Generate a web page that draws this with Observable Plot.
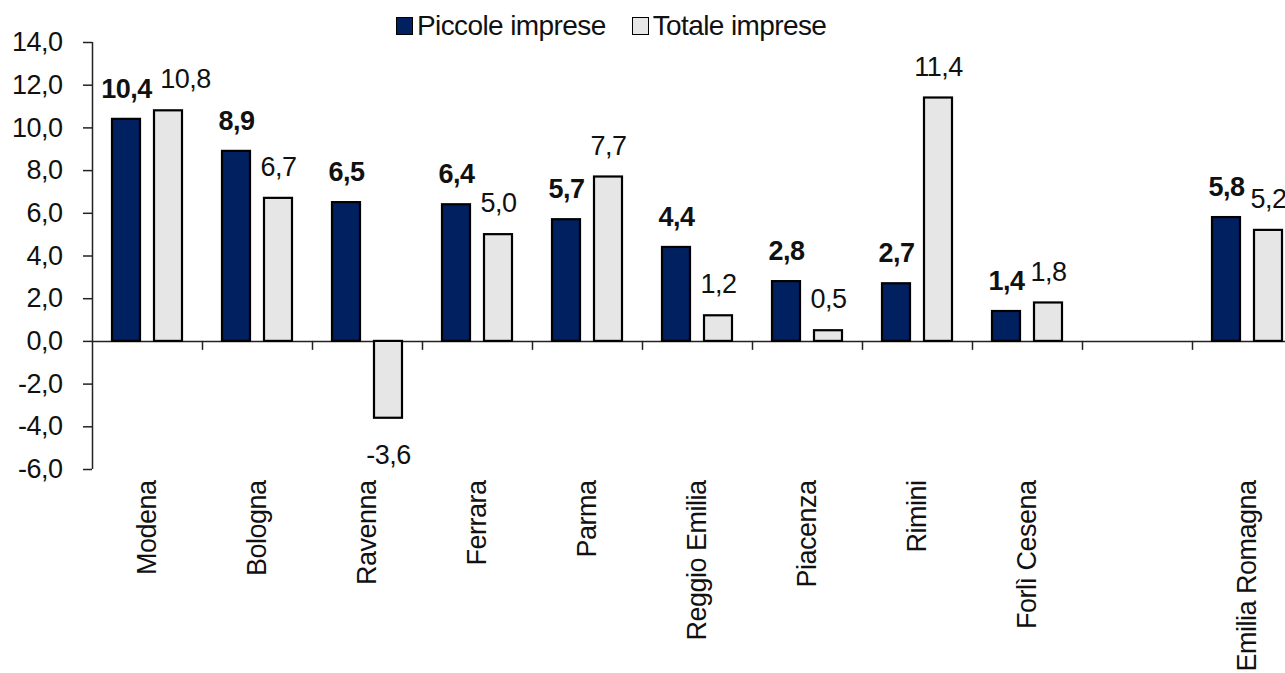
<!DOCTYPE html>
<html><head><meta charset="utf-8">
<script src="https://cdn.jsdelivr.net/npm/d3@7"></script>
<script src="https://cdn.jsdelivr.net/npm/@observablehq/plot@0.6"></script>
<style>
body{margin:0;background:#fff;overflow:hidden;font-family:"Liberation Sans",Arial,sans-serif}
#wrap{position:relative;width:1285px;height:673px;overflow:hidden}
#legend{position:absolute;top:10px;left:396px;display:flex;align-items:center;font-size:28px;letter-spacing:-0.6px;color:#111;z-index:2;line-height:32px;white-space:nowrap}
.sw{width:15px;height:16px;border:1.5px solid #000;display:inline-block;margin-right:4px}
.item{display:flex;align-items:center;margin-right:26px}
svg text{letter-spacing:-0.5px}
</style></head><body>
<div id="wrap"><div id="legend"></div></div>
<script>
const categories = ["Modena","Bologna","Ravenna","Ferrara","Parma","Reggio Emilia","Piacenza","Rimini","Forlì Cesena","","Emilia Romagna"];
const piccole = [10.4, 8.9, 6.5, 6.4, 5.7, 4.4, 2.8, 2.7, 1.4, null, 5.8];
const totale  = [10.8, 6.7, -3.6, 5.0, 7.7, 1.2, 0.5, 11.4, 1.8, null, 5.2];
const yTicks = [-6, -4, -2, 0, 2, 4, 6, 8, 10, 12, 14];
const seriesNames = ["Piccole imprese", "Totale imprese"];
const seriesColors = ["#002060", "#e6e6e6"];

const fmt = v => v.toFixed(1).replace(".", ",");
const rowsP = categories.map((c, i) => ({cat: c, v: piccole[i]})).filter(d => d.v != null);
const rowsT = categories.map((c, i) => ({cat: c, v: totale[i]})).filter(d => d.v != null);

// legend
const legend = document.getElementById("legend");
seriesNames.forEach((n, i) => {
  const it = document.createElement("div");
  it.className = "item";
  const sw = document.createElement("span");
  sw.className = "sw";
  sw.style.background = seriesColors[i];
  it.appendChild(sw);
  it.appendChild(document.createTextNode(n));
  legend.appendChild(it);
});

const chart = Plot.plot({
  width: 1285,
  height: 673,
  marginTop: 42,
  marginBottom: 204,
  marginLeft: 92,
  marginRight: 0,
  style: {fontFamily: "'Liberation Sans', Arial, sans-serif", fontSize: "27px", color: "#111", background: "white"},
  x: {domain: categories, range: [92, 1302], padding: 0, label: null},
  y: {domain: [-6, 14], label: null},
  marks: [
    Plot.ruleY([0], {stroke: "#222", strokeWidth: 1.5}),
    Plot.ruleX(categories, {x: d => d, dx: 55, y1: 0, y2: -0.42, stroke: "#222", strokeWidth: 1.5}),
    Plot.ruleX([categories[0]], {x: d => d, dx: -55, stroke: "#222", strokeWidth: 1.5}),
    Plot.barY(rowsP, {x: "cat", y: "v", fill: seriesColors[0], stroke: "#000", strokeWidth: 2.2, insetLeft: 20, insetRight: 62}),
    Plot.barY(rowsT, {x: "cat", y: "v", fill: seriesColors[1], stroke: "#000", strokeWidth: 2.2, insetLeft: 62, insetRight: 20}),
    Plot.axisY(yTicks, {tickSize: 9, tickPadding: 21, tickFormat: fmt, fontSize: 27, stroke: "#222", strokeWidth: 1.5}),
    Plot.axisX({tickSize: 0, tickPadding: 11, tickRotate: -90, fontSize: 27}),
    Plot.text(rowsP, {x: "cat", y: "v", text: d => fmt(d.v), dx: -21, dy: -30, fontWeight: "bold", fontSize: 27, fill: "#111"}),
    Plot.text(rowsT.filter(d => d.v >= 0 && d.cat !== "Modena"), {x: "cat", y: "v", text: d => fmt(d.v), dx: 21, dy: -31, fontSize: 27, fill: "#111"}),
    Plot.text(rowsT.filter(d => d.v >= 0 && d.cat === "Modena"), {x: "cat", y: "v", text: d => fmt(d.v), dx: 38, dy: -31, fontSize: 27, fill: "#111"}),
    Plot.text(rowsT.filter(d => d.v < 0), {x: "cat", y: "v", text: d => fmt(d.v), dx: 21, dy: 37, fontSize: 27, fill: "#111"})
  ]
});
document.getElementById("wrap").appendChild(chart);
</script>
</body></html>
